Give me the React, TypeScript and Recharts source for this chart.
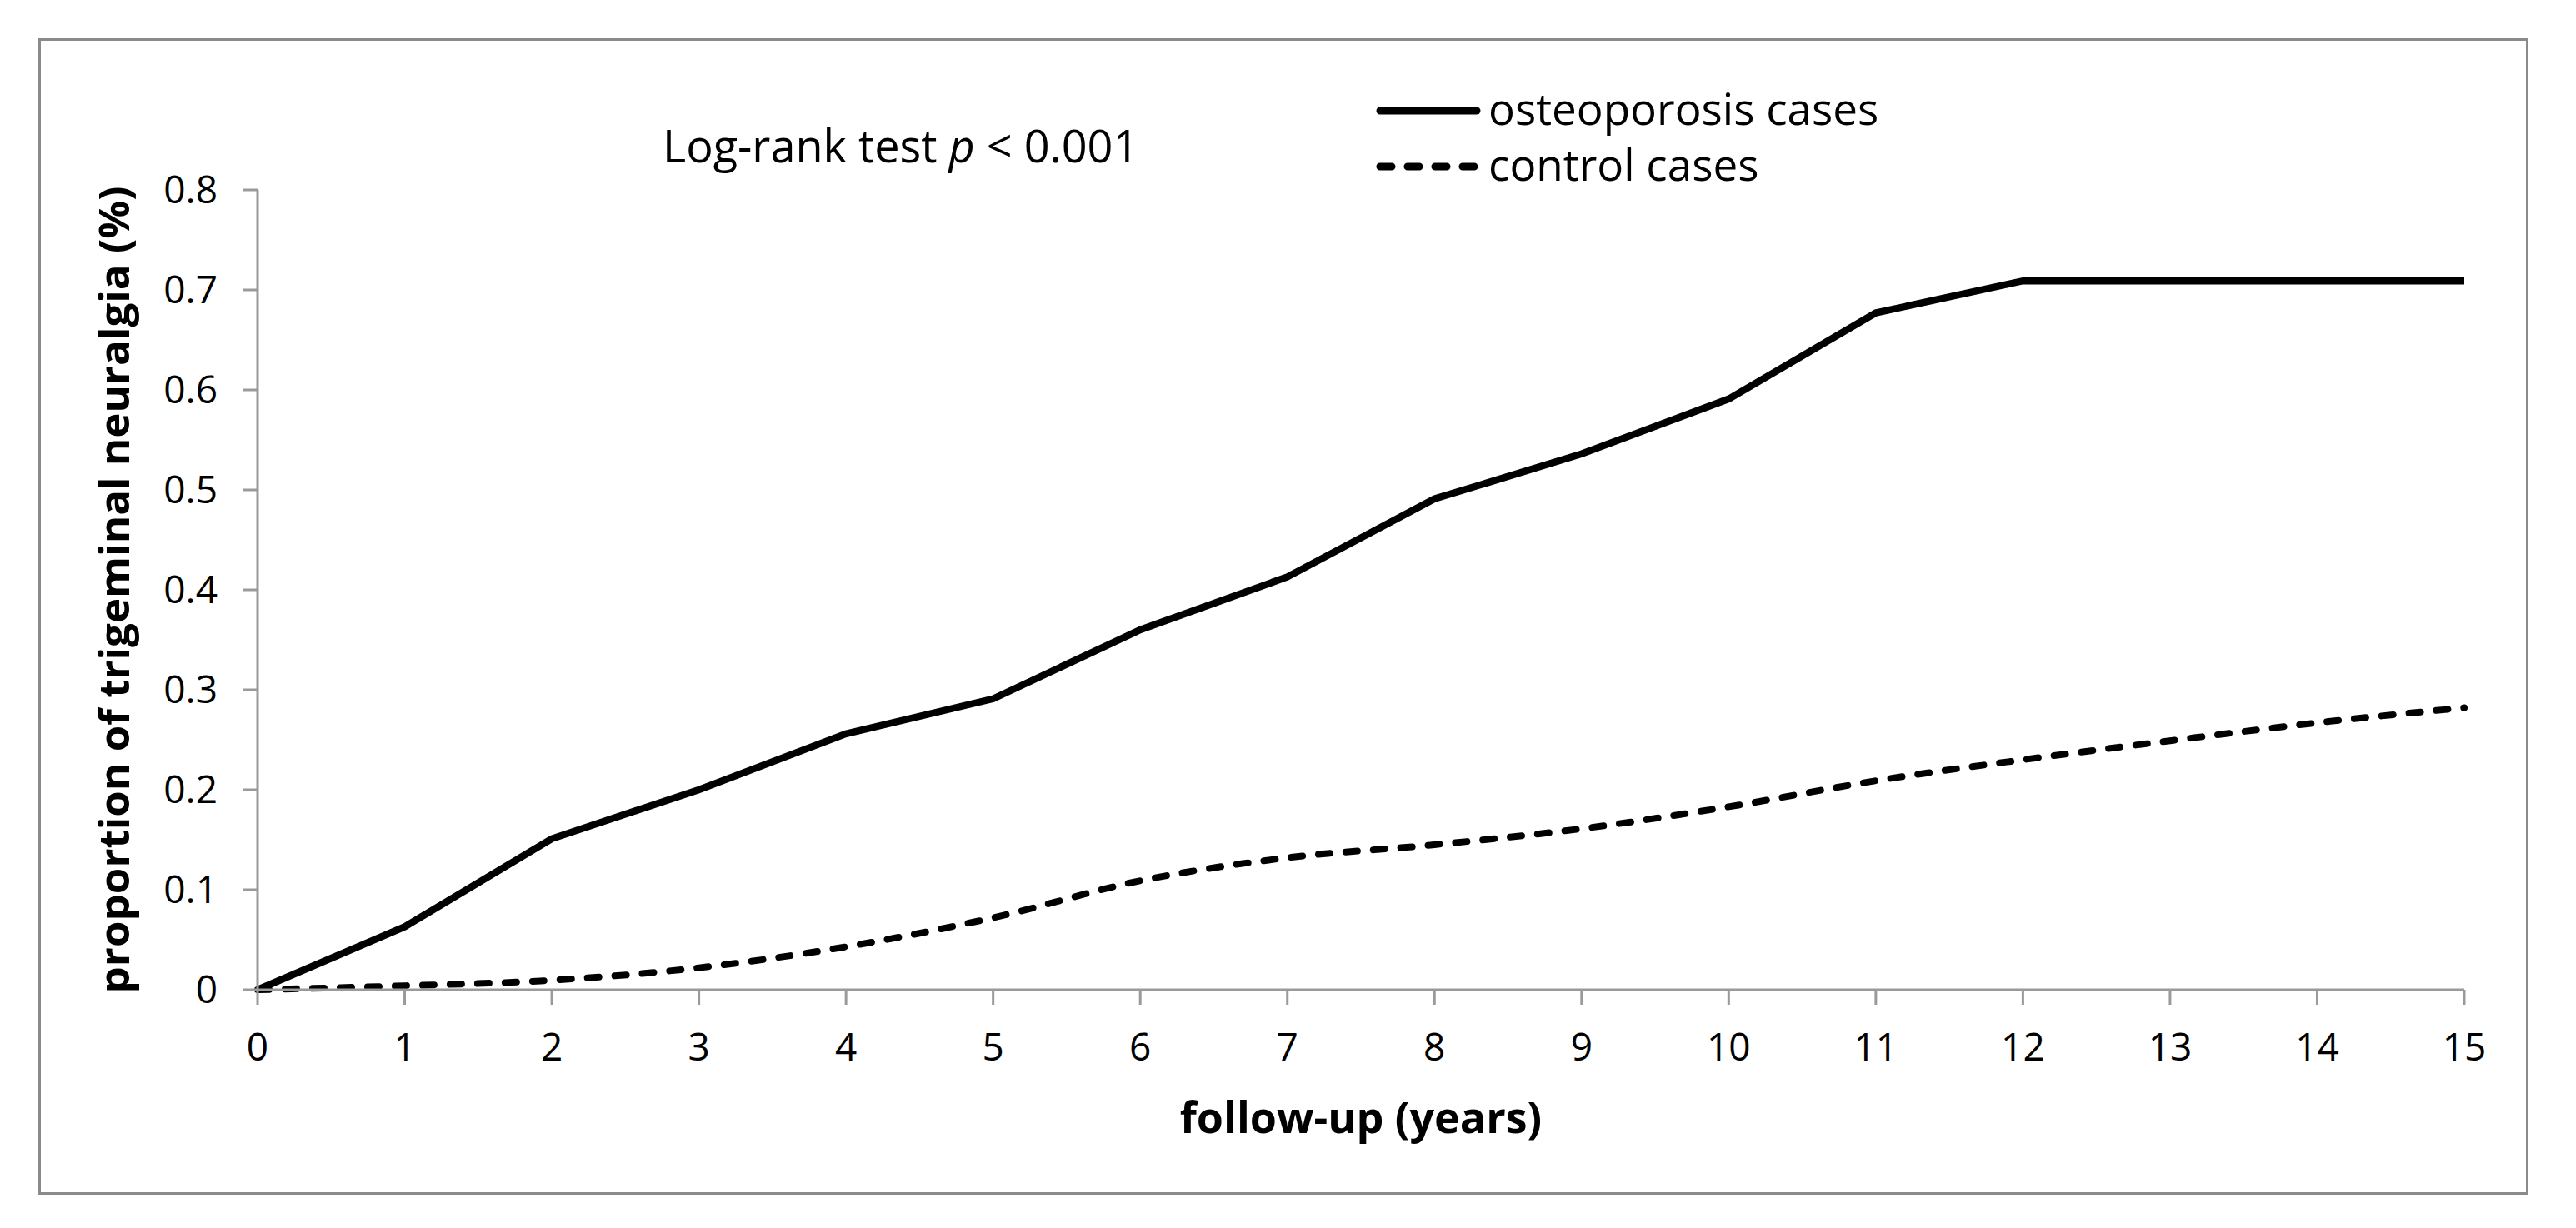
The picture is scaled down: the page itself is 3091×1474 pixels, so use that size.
import { LineChart, Line, XAxis, YAxis, Legend } from 'recharts';

// follow-up years and cumulative proportion (%)
const years = [0, 1, 2, 3, 4, 5, 6, 7, 8, 9, 10, 11, 12, 13, 14, 15];
const osteoporosisCases = [0, 0.063, 0.151, 0.2, 0.256, 0.291, 0.36, 0.413, 0.491, 0.536, 0.591, 0.677, 0.709, 0.709, 0.709, 0.709];
const controlCases = [0, 0.004, 0.0095, 0.022, 0.043, 0.072, 0.109, 0.132, 0.145, 0.161, 0.183, 0.209, 0.23, 0.249, 0.267, 0.282];
const yTicks = [0, 0.1, 0.2, 0.3, 0.4, 0.5, 0.6, 0.7, 0.8];
const xTicks = years;

const FONT = '"Open Sans", "Liberation Sans", sans-serif';
const AXIS_GRAY = '#9a9a9a';

const chartData = years.map((y, i) => ({
  year: y,
  osteoporosis: osteoporosisCases[i],
  control: controlCases[i],
}));

const legendOrder = ['osteoporosis', 'control'];
const dashes: Record<string, string | undefined> = {
  osteoporosis: undefined,
  control: '14 19',
};

function renderLegend(props: any) {
  const items = [...(props.payload || [])].sort(
    (a: any, b: any) => legendOrder.indexOf(a.dataKey) - legendOrder.indexOf(b.dataKey)
  );
  return (
    <svg width={720} height={150} style={{ display: 'block', overflow: 'visible' }}>
      {items.map((entry: any, i: number) => {
        const y = 33 + i * 67;
        return (
          <g key={entry.dataKey}>
            <line
              x1={8}
              x2={124}
              y1={y}
              y2={y}
              stroke="#000"
              strokeWidth={9}
              strokeLinecap="round"
              strokeDasharray={dashes[entry.dataKey]}
            />
            <text x={138} y={y + 17} fontSize={53} fontFamily={FONT} fill="#000">
              {entry.value}
            </text>
          </g>
        );
      })}
    </svg>
  );
}

export default function App() {
  return (
    <div style={{ position: 'absolute', left: 0, top: 0, width: 3091, height: 1474, background: '#fff' }}>
      <LineChart
        width={3091}
        height={1474}
        data={chartData}
        margin={{ top: 228, right: 134, bottom: 96, left: 109 }}
      >
        <XAxis
          dataKey="year"
          type="number"
          domain={[0, 15]}
          ticks={xTicks}
          height={190}
          stroke={AXIS_GRAY}
          strokeWidth={3}
          tickSize={18}
          tickMargin={34}
          tick={{ fill: '#000', fontSize: 46, fontFamily: FONT }}
          label={{
            value: 'follow-up (years)',
            position: 'insideBottom',
            offset: 18,
            style: { fontSize: 52, fontWeight: 700, fontFamily: FONT, fill: '#000' },
          }}
        />
        <YAxis
          type="number"
          domain={[0, 0.8]}
          ticks={yTicks}
          width={200}
          stroke={AXIS_GRAY}
          strokeWidth={3}
          tickSize={18}
          tickMargin={30}
          tick={{ fill: '#000', fontSize: 46, fontFamily: FONT }}
          label={{
            value: 'proportion of trigeminal neuralgia (%)',
            angle: -90,
            position: 'insideLeft',
            offset: 28,
            style: { textAnchor: 'middle', fontSize: 51, fontWeight: 700, fontFamily: FONT, fill: '#000' },
          }}
        />
        <Legend
          layout="horizontal"
          verticalAlign="middle"
          align="center"
          content={renderLegend}
          wrapperStyle={{ left: 1648, top: 100, width: 720, height: 150 }}
        />
        <Line
          type="linear"
          dataKey="osteoporosis"
          name="osteoporosis cases"
          stroke="#000"
          strokeWidth={8.5}
          dot={false}
          activeDot={false}
          isAnimationActive={false}
        />
        <Line
          type="monotone"
          dataKey="control"
          name="control cases"
          stroke="#000"
          strokeWidth={8}
          strokeDasharray="14 19"
          strokeLinecap="round"
          dot={false}
          activeDot={false}
          isAnimationActive={false}
        />
      </LineChart>
      <svg
        width={3091}
        height={1474}
        style={{ position: 'absolute', left: 0, top: 0, pointerEvents: 'none' }}
      >
        <rect x={47.5} y={47.5} width={2985} height={1385} fill="none" stroke="#8a8a8a" strokeWidth={3} />
        <text x={795} y={195} fontSize={54} fontFamily={FONT} fill="#000">
          Log-rank test <tspan fontStyle="italic">p</tspan> &lt; 0.001
        </text>
      </svg>
    </div>
  );
}
